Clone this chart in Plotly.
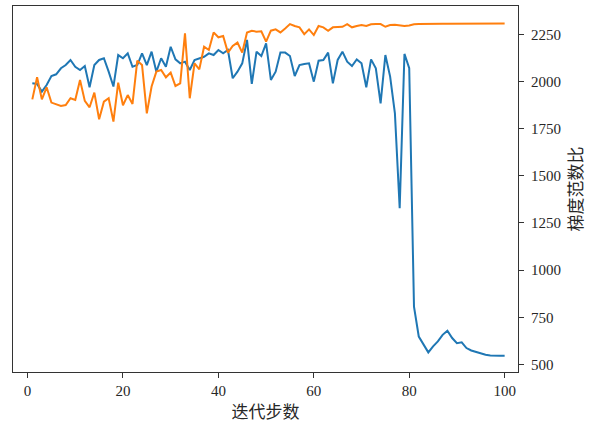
import plotly.graph_objects as go

steps = list(range(1, 101))

blue_vals = [
    1990, 1987, 1946, 1981, 2029, 2038, 2070, 2087, 2114, 2078,
    2061, 2082, 1969, 2087, 2114, 2123, 2052, 1973, 2140, 2123,
    2149, 2078, 2087, 2149, 2087, 2158, 2052, 2123, 2078, 2184,
    2117, 2096, 2105, 2061, 2114, 2123, 2131, 2149, 2140, 2167,
    2149, 2167, 2017, 2052, 2096, 2220, 1987, 2158, 2135, 2202,
    2008, 2052, 2153, 2153, 2135, 2029, 2087, 2093, 2096, 1999,
    2110, 2114, 2153, 1990, 2114, 2158, 2105, 2082, 2117, 2096,
    1969, 2117, 2070, 1884, 2140, 2026, 1831, 1328, 2146, 2070,
    807, 648, 604, 564, 596, 622, 657, 679, 640, 613,
    617, 587, 574, 566, 557, 551, 548, 546, 546, 546,
]

orange_vals = [
    1905, 2022, 1905, 1969, 1888, 1881, 1870, 1875, 1911, 1902,
    2008, 1897, 1863, 1941, 1800, 1893, 1911, 1787, 1994, 1874,
    1928, 1881, 2110, 2087, 1831, 1973, 2052, 2061, 2022, 2047,
    1976, 1990, 2255, 1911, 2096, 2064, 2184, 2167, 2260, 2234,
    2241, 2153, 2188, 2206, 2153, 2259, 2269, 2264, 2266, 2211,
    2269, 2276, 2260, 2281, 2304, 2294, 2287, 2251, 2276, 2246,
    2294, 2287, 2269, 2287, 2287, 2290, 2304, 2287, 2294, 2299,
    2294, 2303, 2304, 2304, 2290, 2299, 2301, 2296, 2294, 2297,
    2303, 2304, 2305, 2305, 2304, 2305, 2306, 2306, 2306, 2306,
    2306, 2307, 2307, 2307, 2307, 2307, 2307, 2307, 2307, 2307,
]

x_ticks = [0, 20, 40, 60, 80, 100]
y_ticks = [500, 750, 1000, 1250, 1500, 1750, 2000, 2250]

x_title = "迭代步数"
y_title = "梯度范数比"

fig = go.Figure()
fig.add_trace(go.Scatter(x=steps, y=blue_vals, mode="lines",
                         line=dict(color="#1f77b4", width=2), showlegend=False))
fig.add_trace(go.Scatter(x=steps, y=orange_vals, mode="lines",
                         line=dict(color="#ff7f0e", width=2), showlegend=False))

tick_font = dict(family="Liberation Serif, DejaVu Serif, serif", size=15, color="#262626")
title_font = dict(family="Noto Sans CJK SC, sans-serif", size=17, color="#262626")

fig.update_layout(
    width=598, height=432,
    margin=dict(l=13, r=80, t=6, b=60),
    paper_bgcolor="white", plot_bgcolor="white",
    xaxis=dict(
        range=[-3.05, 102.8], tickvals=x_ticks, ticktext=[str(v) for v in x_ticks],
        showgrid=False, zeroline=False, showline=True, linecolor="#333333",
        linewidth=1.2, mirror=True, ticks="outside", ticklen=5, tickwidth=1,
        tickcolor="#333333", tickfont=tick_font,
        title=dict(text=x_title, font=title_font, standoff=8),
    ),
    yaxis=dict(
        range=[460, 2400], tickvals=y_ticks, ticktext=[str(v) for v in y_ticks],
        side="right", showgrid=False, zeroline=False, showline=True,
        linecolor="#333333", linewidth=1.2, mirror=True, ticks="outside",
        ticklen=5, tickwidth=1, tickcolor="#333333", tickfont=tick_font,
        ticklabelstandoff=4,
        title=dict(text=y_title, font=title_font, standoff=10),
    ),
)

fig.write_html("out.html", config={"displayModeBar": False},
               post_script="document.body.style.margin='0';")
